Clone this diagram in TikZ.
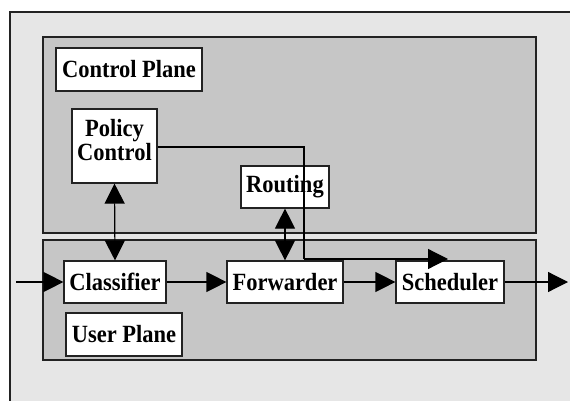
\documentclass[tikz,border=0pt]{standalone}
\usepackage{fontspec}
\setmainfont{Liberation Serif}
\usetikzlibrary{arrows.meta}
\definecolor{outerbg}{HTML}{E6E6E6}
\definecolor{planebg}{HTML}{C6C6C6}
\definecolor{edge}{HTML}{222222}
% slightly tall lettering
\newcommand{\tall}[1]{\scalebox{1}[1.1]{#1}}
\begin{document}
\begin{tikzpicture}[x=1pt,y=-1pt,
  txt/.style={font=\fontsize{22.5}{25}\selectfont\bfseries},
  box/.style={draw=edge, line width=1.2pt, fill=white, inner sep=0pt, txt},
  plane/.style={draw=edge, line width=1.8pt, fill=planebg},
  tipa/.style={-{Triangle[length=20pt,width=20pt]}},
  tipb/.style={{Triangle[length=20pt,width=20pt]}-{Triangle[length=20pt,width=20pt]}},
  conn/.style={line width=1.2pt, draw=black}]
\useasboundingbox (0,0) rectangle (570,401);
% outer frame (runs past the page on the right and bottom)
\fill[outerbg] (10,12) rectangle (570,401);
\draw[line width=1.2pt, draw=edge] (10,401) -- (10,12) -- (570,12);
% the two planes
\draw[plane] (43,37) rectangle (536,233);
\draw[plane] (43,240) rectangle (536,360);
% labels of the planes
\node[box, minimum width=146pt, minimum height=43pt] (ctrl) at (129,69.5) {\tall{Control Plane}};
\node[box, minimum width=116pt, minimum height=43pt] (user) at (124,334.5) {\tall{User Plane}};
% control plane blocks
\node[box, minimum width=85pt, minimum height=74pt] (policy) at (114.5,146) {};
\node[txt, align=center, inner sep=0pt] (policytxt) at (114.5,140) {\tall{Policy}\\[-1pt]\tall{Control}};
\node[box, minimum width=88pt, minimum height=42pt] (routing) at (285,187) {\tall{Routing}};
% user plane blocks
\node[box, minimum width=102pt, minimum height=42pt] (classifier) at (115,282) {\tall{Classifier}};
\node[box, minimum width=116pt, minimum height=42pt] (forwarder) at (285,282) {\tall{Forwarder}};
\node[box, minimum width=108pt, minimum height=42pt] (scheduler) at (450,282) {\tall{Scheduler}};
% free ends of the data path
\coordinate (in) at (16,282);
\coordinate (out) at (568,282);
\coordinate (bend1) at (304,147);
\coordinate (bend2) at (304,259);
\coordinate (sched) at (448,259);
% data path
\draw[conn, tipa] (in) -- (classifier.west);
\draw[conn, tipa] (classifier.east) -- (forwarder.west);
\draw[conn, tipa] (forwarder.east) -- (scheduler.west);
\draw[conn, tipa] (scheduler.east) -- (out);
% control connections
\draw[conn, tipb] (policy.south) -- (classifier.north);
\draw[conn, tipb] (routing.south) -- (forwarder.north);
\draw[conn] (policy.east |- bend1) -- (bend1) -- (bend2);
\draw[conn, tipa] (bend2) -- (sched);
\end{tikzpicture}
\end{document}
